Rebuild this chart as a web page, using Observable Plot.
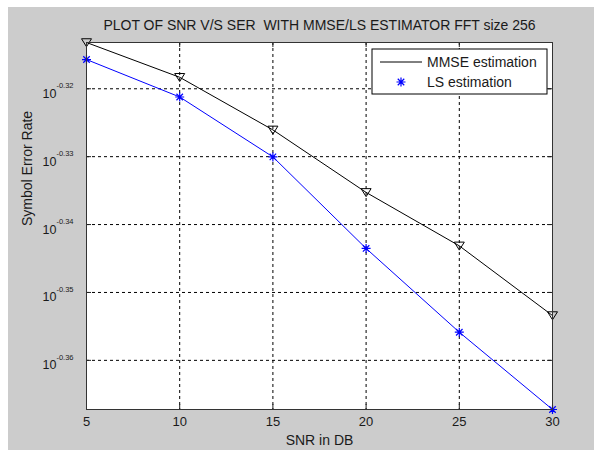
<!DOCTYPE html>
<html><head><meta charset="utf-8">
<script src="https://cdn.jsdelivr.net/npm/d3@7"></script>
<script src="https://cdn.jsdelivr.net/npm/@observablehq/plot@0.6"></script>
<style>
html,body{margin:0;padding:0;background:#fff;}
#wrap{position:absolute;left:8px;top:7px;width:586px;height:443px;background:#cccccc;}
#wrap svg{display:block;background:transparent;}
#wrap svg text{white-space:pre;}
</style></head><body><div id="wrap"></div>
<script>
// Data
const snr = [5, 10, 15, 20, 25, 30];
const mmseSER = [0.4862, 0.4805, 0.4720, 0.4621, 0.4538, 0.4432];
const lsSER = [0.4834, 0.4773, 0.4677, 0.4534, 0.4407, 0.4293];
const xTicks = [5, 10, 15, 20, 25, 30];
const yTickExponents = [-0.32, -0.33, -0.34, -0.35, -0.36];
const seriesNames = ["MMSE estimation", "LS estimation"];
const titleText = "PLOT OF SNR V/S SER  WITH MMSE/LS ESTIMATOR FFT size 256";
const xLabel = "SNR in DB";
const yLabel = "Symbol Error Rate";

const yTicks = yTickExponents.map(e => Math.pow(10, e));
const mmse = snr.map((x, i) => ({snr: x, ser: mmseSER[i]}));
const ls = snr.map((x, i) => ({snr: x, ser: lsSER[i]}));

const W = 586, H = 443, mL = 78, mT = 35, mR = 42, mB = 41;
const pw = W - mL - mR, ph = H - mT - mB;
const FONT = "Liberation Sans, Arial, sans-serif";
const INK = "#1a1a1a";

const starSymbol = {draw(ctx, size) {
  const r = Math.sqrt(size / Math.PI);
  const d = r * 0.72;
  ctx.moveTo(-r, 0); ctx.lineTo(r, 0);
  ctx.moveTo(0, -r); ctx.lineTo(0, r);
  ctx.moveTo(-d, -d); ctx.lineTo(d, d);
  ctx.moveTo(-d, d); ctx.lineTo(d, -d);
}};
const downTriangle = {draw(ctx, size) {
  const r = Math.sqrt(size / Math.PI);
  ctx.moveTo(-r, -r * 0.75); ctx.lineTo(r, -r * 0.75); ctx.lineTo(0, r * 0.85); ctx.closePath();
}};

const expLabel = d => (Math.round(Math.log10(d) * 100) / 100).toFixed(2);

const plot = Plot.plot({
  width: W, height: H,
  marginLeft: mL, marginTop: mT, marginRight: mR, marginBottom: mB,
  style: {fontFamily: FONT, fontSize: "13px", color: INK, background: "transparent"},
  x: {domain: [5, 30]},
  y: {type: "log", domain: [0.4293, 0.4862]},
  marks: [
    Plot.frame({fill: "white", stroke: "none"}),
    Plot.ruleX(xTicks.slice(1, -1), {stroke: "#000", strokeDasharray: "3,3", strokeWidth: 1}),
    Plot.ruleY(yTicks, {stroke: "#000", strokeDasharray: "3,3", strokeWidth: 1}),
    Plot.ruleX(xTicks, {stroke: "#222", insetTop: ph - 5}),
    Plot.ruleX(xTicks, {stroke: "#222", insetBottom: ph - 5}),
    Plot.ruleY(yTicks, {stroke: "#222", insetRight: pw - 5}),
    Plot.ruleY(yTicks, {stroke: "#222", insetLeft: pw - 5}),
    Plot.line(mmse, {x: "snr", y: "ser", stroke: "#000", strokeWidth: 1}),
    Plot.dot(mmse, {x: "snr", y: "ser", symbol: downTriangle, r: 5, stroke: "#000", fill: "none", strokeWidth: 1}),
    Plot.line(ls, {x: "snr", y: "ser", stroke: "#0000ff", strokeWidth: 1}),
    Plot.dot(ls, {x: "snr", y: "ser", symbol: starSymbol, r: 4.5, stroke: "#0000ff", strokeWidth: 1.2}),
    Plot.frame({stroke: "#333", strokeWidth: 1}),
    Plot.axisX(xTicks, {tickSize: 0, tickPadding: 7, label: null, fontSize: 13}),
    Plot.axisY(yTicks, {tickSize: 0, tickPadding: 13, label: null, fontSize: 12.5,
      tickFormat: d => "10^" + expLabel(d)}),
    Plot.text([titleText], {text: d => d, frameAnchor: "top", dy: -17, lineAnchor: "middle", fontSize: 14, fill: INK}),
    Plot.text([xLabel], {text: d => d, frameAnchor: "bottom", dy: 31, lineAnchor: "middle", fontSize: 14, fill: INK}),
    Plot.text([yLabel], {text: d => d, frameAnchor: "left", dx: -59, rotate: -90, lineAnchor: "middle", fontSize: 14, fill: INK})
  ]
});

// Superscript exponents on the y tick labels
d3.select(plot).selectAll('g[aria-label="y-axis tick label"] text').each(function() {
  const el = d3.select(this);
  const txt = el.text();
  const exp = txt.includes("^") ? txt.split("^")[1] : txt;
  el.text(null).attr("dy", null);
  el.append("tspan").attr("dy", "5").text("10");
  el.append("tspan").attr("dy", "-9.5").attr("font-size", "7.5px").text(exp);
});

// Legend (MATLAB style box)
const svg = d3.select(plot);
const lg = svg.append("g").attr("font-family", FONT).attr("font-size", "14px").attr("text-anchor", "start");
const lx = 364, ly = 42, lw = 175, lh = 45;
lg.append("rect").attr("x", lx).attr("y", ly).attr("width", lw).attr("height", lh)
  .attr("fill", "white").attr("stroke", "#000").attr("stroke-width", 1);
lg.append("line").attr("x1", lx + 8).attr("x2", lx + 50).attr("y1", ly + 13).attr("y2", ly + 13).attr("stroke", "#000");
lg.append("text").attr("x", lx + 55).attr("y", ly + 13).attr("dy", "0.35em").attr("fill", INK).text(seriesNames[0]);
const s = 4.5, dd = s * 0.72, cx = lx + 29, cy = ly + 33;
lg.append("path").attr("d", `M${cx-s},${cy}L${cx+s},${cy}M${cx},${cy-s}L${cx},${cy+s}M${cx-dd},${cy-dd}L${cx+dd},${cy+dd}M${cx-dd},${cy+dd}L${cx+dd},${cy-dd}`)
  .attr("stroke", "#0000ff").attr("stroke-width", 1.2);
lg.append("text").attr("x", lx + 55).attr("y", cy).attr("dy", "0.35em").attr("fill", INK).text(seriesNames[1]);

document.getElementById("wrap").appendChild(plot);
</script></body></html>
